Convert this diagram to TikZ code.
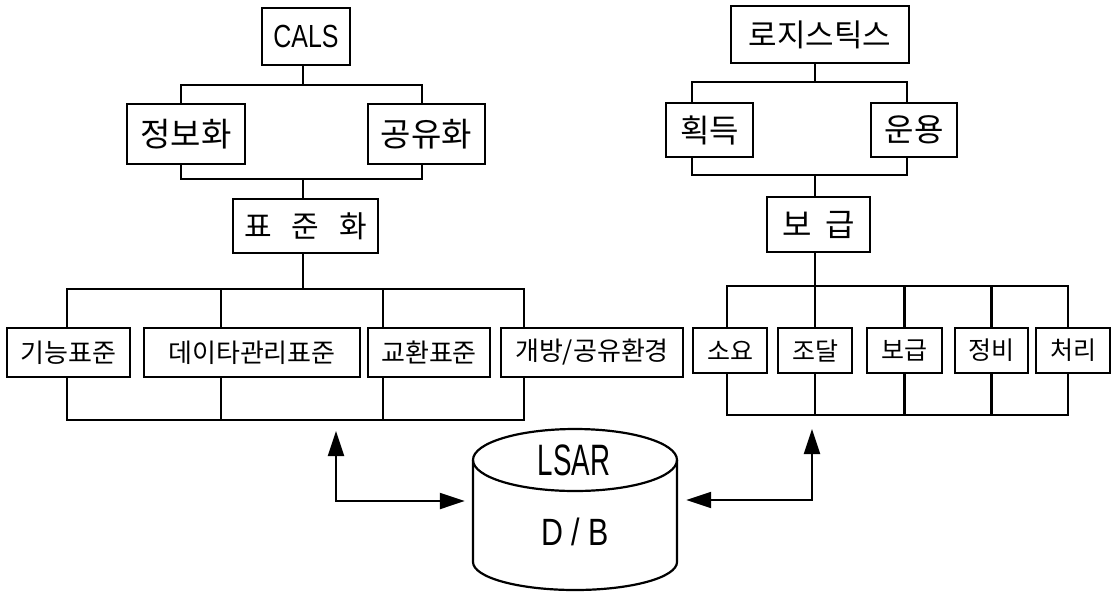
\documentclass[tikz,border=0pt]{standalone}
\usepackage{fontspec}
\newfontfamily\kr{Noto Sans CJK KR}
\newfontfamily\nA[FakeStretch=0.78]{Liberation Sans}
\newfontfamily\nB[FakeStretch=0.63]{Liberation Sans}
\newfontfamily\nC[FakeStretch=0.8]{Liberation Sans}
\newcommand\krs[1]{\kr\fontsize{#1}{#1}\selectfont}
\usetikzlibrary{arrows.meta,calc}
\tikzset{
  bx/.style 2 args={draw, line width=2.4pt, inner sep=0pt, minimum width=#1, minimum height=#2},
  ln/.style={line width=2.2pt},
  tip/.tip={Triangle[length=25pt,width=16pt]},
}
\begin{document}
\begin{tikzpicture}[x=1pt,y=-1pt,line join=miter]
\useasboundingbox (0,0) rectangle (1113,592);
% ---------- left tree ----------
\node[bx={88}{57}, font=\nA\fontsize{32}{32}\selectfont] (cals) at (306,36.5) {CALS};
\node[bx={118}{60}, font=\krs{33}] (jb) at (186,134) {정보화};
\node[bx={117}{60}, font=\krs{33}] (gy) at (426.5,134) {공유화};
\node[bx={145}{54}, font=\krs{30}] (pj) at (305.5,226) {표\hspace{20pt}준\hspace{20pt}화};
\node[bx={123}{49}, font=\krs{26}] (gn) at (68.5,352.5) {기능표준};
\node[bx={216}{49}, font=\krs{26}] (dt) at (252,352.5) {데이타관리표준};
\node[bx={122}{49}, font=\krs{26}] (gh) at (429,352.5) {교환표준};
\node[bx={182}{49}, font=\krs{26}] (gb) at (592,352.5) {개방/공유환경};
\coordinate (b1) at (303,85); \coordinate (b1L) at (181,85); \coordinate (b1R) at (422,85);
\coordinate (b2) at (303,179); \coordinate (b2L) at (181,179); \coordinate (b2R) at (422,179);
\coordinate (b3) at (303,289);
\coordinate (t1) at (67,289); \coordinate (t2) at (221,289); \coordinate (t3) at (383,289); \coordinate (t4) at (524,289);
\coordinate (u1) at (67,420); \coordinate (u2) at (221,420); \coordinate (u3) at (383,420); \coordinate (u4) at (524,420);
\draw[ln] (cals.south -| b1) -- (b1);
\draw[ln] (b1L |- jb.north) -- (b1L) -- (b1R) -- (b1R |- gy.north);
\draw[ln] (b2L |- jb.south) -- (b2L) -- (b2R) -- (b2R |- gy.south);
\draw[ln] (b2) -- (b2 |- pj.north);
\draw[ln] (pj.south -| b3) -- (b3);
\draw[ln] (t1 |- gn.north) -- (t1) -- (t4) -- (t4 |- gb.north);
\draw[ln] (t2) -- (t2 |- dt.north);
\draw[ln] (t3) -- (t3 |- gh.north);
\draw[ln] (u1 |- gn.south) -- (u1) -- (u4) -- (u4 |- gb.south);
\draw[ln] (u2) -- (u2 |- dt.south);
\draw[ln] (u3) -- (u3 |- gh.south);
% ---------- right tree ----------
\node[bx={178}{57}, font=\krs{31}] (ljs) at (820,34.5) {로지스틱스};
\node[bx={87}{54}, font=\krs{32}] (hd) at (709.5,130) {획득};
\node[bx={86}{54}, font=\krs{32}] (uy) at (914,130) {운용};
\node[bx={103}{55}, font=\krs{32}] (bg) at (818.5,224.5) {보\hspace{14pt}급};
\node[bx={74}{45}, font=\krs{25}] (sy) at (730,350.5) {소요};
\node[bx={74}{45}, font=\krs{25}] (jd) at (815,350.5) {조달};
\node[bx={75}{45}, font=\krs{25}] (bq) at (904.5,350.5) {보급};
\node[bx={73}{45}, font=\krs{25}] (jv) at (991.5,350.5) {정비};
\node[bx={74}{45}, font=\krs{25}] (cr) at (1073,350.5) {처리};
\coordinate (c1) at (815,82); \coordinate (c1L) at (692,82); \coordinate (c1R) at (907,82);
\coordinate (c2) at (815,175); \coordinate (c2L) at (692,175); \coordinate (c2R) at (907,175);
\coordinate (c3) at (815,286);
\coordinate (v1) at (727,286); \coordinate (v5) at (1068,286);
\coordinate (w1) at (727,415); \coordinate (w5) at (1068,415);
\draw[ln] (ljs.south -| c1) -- (c1);
\draw[ln] (c1L |- hd.north) -- (c1L) -- (c1R) -- (c1R |- uy.north);
\draw[ln] (c2L |- hd.south) -- (c2L) -- (c2R) -- (c2R |- uy.south);
\draw[ln] (c2) -- (c2 |- bg.north);
\draw[ln] (bg.south -| c3) -- (c3);
\draw[ln] (v1 |- sy.north) -- (v1) -- (v5) -- (v5 |- cr.north);
\draw[ln] (jd.north) -- (jd.north |- v1);
\draw[ln] (bq.north) -- (bq.north |- v1);
\draw[ln] (jv.north) -- (jv.north |- v1);
\draw[ln] (w1 |- sy.south) -- (w1) -- (w5) -- (w5 |- cr.south);
\draw[ln] (jd.south) -- (jd.south |- w1);
\draw[ln] (bq.south) -- (bq.south |- w1);
\draw[ln] (jv.south) -- (jv.south |- w1);
% ---------- database cylinder ----------
\node[minimum width=204pt, minimum height=162pt, inner sep=0pt] (db) at (575,510) {};
\draw[ln] (575,460) ellipse [x radius=102, y radius=31];
\draw[ln] (473,460) -- (473,562) arc[start angle=180, end angle=0, x radius=102, y radius=28] -- (677,460);
\node[font=\nB\fontsize{44}{44}\selectfont] (lsar) at (574,460) {LSAR};
\node[font=\nC\fontsize{38}{38}\selectfont] (dbt) at (575,532) {D / B};
% ---------- arrows ----------
\coordinate (aL) at (336,501);
\coordinate (aR) at (812,500);
\draw[ln, {tip}-{tip}, shorten <=11pt, shorten >=8pt] (aL |- u1) -- (aL) -- (aL -| db.west);
\draw[ln, {tip}-{tip}, shorten <=14pt, shorten >=9pt] (aR |- w1) -- (aR) -- (aR -| db.east);
\end{tikzpicture}
\end{document}
